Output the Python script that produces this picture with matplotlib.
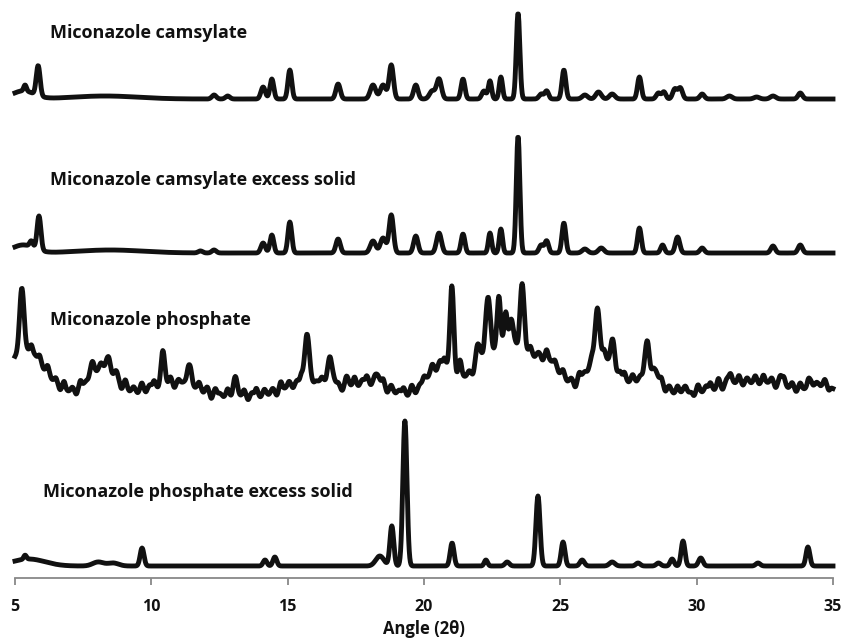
import numpy as np
import matplotlib
matplotlib.use("Agg")
import matplotlib.pyplot as plt

plt.rcParams['font.family'] = ['Open Sans', 'DejaVu Sans']

# 2-theta grid used to draw the patterns
angles = np.arange(5.0, 35.0001, 0.02)

# each trace: vertical offset (baseline) + list of (position, height, width) peaks
labels = ["Miconazole camsylate",
          "Miconazole camsylate excess solid",
          "Miconazole phosphate",
          "Miconazole phosphate excess solid"]
offsets = [479, 325, 183, 12]

camsylate_peaks = [
    (5.3, 8, 0.4), (5.37, 6, 0.05), (5.85, 30, 0.07), (8.3, 3, 1.2),
    (12.3, 4, 0.08), (12.8, 3, 0.08), (14.1, 12, 0.08), (14.42, 20, 0.07),
    (15.08, 29, 0.07), (16.85, 15, 0.08), (18.13, 14, 0.1), (18.5, 14, 0.1),
    (18.8, 34, 0.08), (19.7, 14, 0.08), (20.3, 8, 0.1), (20.55, 20, 0.09),
    (21.43, 20, 0.07), (22.2, 8, 0.08), (22.42, 18, 0.06), (22.82, 22, 0.06),
    (23.45, 86, 0.065), (24.3, 5, 0.08), (24.5, 8, 0.07), (25.13, 29, 0.07),
    (25.9, 4, 0.1), (26.4, 7, 0.1), (26.9, 5, 0.1), (27.9, 22, 0.07),
    (28.6, 6, 0.08), (28.8, 7, 0.07), (29.2, 10, 0.08), (29.4, 11, 0.08),
    (30.2, 5, 0.08), (31.2, 3, 0.1), (32.2, 2, 0.1), (32.8, 3, 0.1),
    (33.8, 6, 0.08),
]

camsylate_excess_peaks = [
    (5.3, 8, 0.4), (5.6, 6, 0.06), (5.88, 34, 0.07), (8.5, 3, 1.2),
    (11.8, 2, 0.08), (12.3, 3, 0.08), (14.1, 10, 0.08), (14.42, 18, 0.07),
    (15.08, 31, 0.07), (16.85, 14, 0.08), (18.13, 12, 0.1), (18.5, 15, 0.1),
    (18.8, 38, 0.08), (19.7, 17, 0.08), (20.55, 20, 0.09), (21.43, 19, 0.07),
    (22.42, 20, 0.06), (22.82, 24, 0.06), (23.45, 117, 0.065), (24.3, 8, 0.08),
    (24.5, 12, 0.07), (25.13, 30, 0.07), (25.9, 4, 0.1), (26.5, 5, 0.1),
    (27.9, 25, 0.07), (28.75, 8, 0.07), (29.3, 16, 0.08), (30.2, 5, 0.08),
    (32.8, 7, 0.08), (33.8, 8, 0.08),
]

phosphate_peaks = [
    # broad background humps
    (5.4, 45, 0.7), (8.2, 28, 0.5), (10.4, 10, 0.7), (11.4, 8, 0.5),
    (15.8, 15, 0.8), (18.0, 14, 0.6), (20.6, 30, 0.5), (23.0, 55, 0.9),
    (24.6, 25, 0.5), (26.5, 40, 0.55), (28.2, 20, 0.5), (31.5, 12, 1.0),
    (33.0, 8, 0.8), (34.6, 10, 0.4),
    # reflections
    (5.25, 63, 0.08), (5.6, 7, 0.05), (7.8, 8, 0.08), (8.37, 10, 0.08),
    (8.7, 6, 0.06), (10.43, 30, 0.07), (11.36, 18, 0.07), (13.07, 16, 0.08),
    (15.7, 47, 0.08), (16.55, 22, 0.12), (17.2, 6, 0.08), (18.3, 8, 0.08),
    (21.02, 80, 0.07), (21.3, 10, 0.05), (22.0, 18, 0.1), (22.35, 55, 0.08),
    (22.75, 44, 0.06), (23.0, 22, 0.06), (23.2, 22, 0.06), (23.6, 59, 0.08),
    (26.35, 50, 0.08), (26.93, 22, 0.08), (28.2, 35, 0.07), (28.5, 8, 0.08),
    (29.5, 5, 0.08), (31.2, 6, 0.08), (33.1, 6, 0.06), (34.2, 6, 0.06),
]

# counting noise on the phosphate trace, one value every 0.15 deg from 5.9
phosphate_noise = [
    5, -3, 6, -2, 4, -4, 7, -1, 3, -5, 6, 0, -3, 5, -2, 4, -4, 6, -1, 2,
    -5, 7, -2, 3, -3, 6, -4, 2, 5, -3, 4, -1, 6, -5, 3, 0, -4, 7, -2, 5,
    -3, 4, -6, 5, 1, -2, 6, -4, 3, -1, 5, -5, 2, 6, -3, 4, -2, 3, -5, 7,
    -1, 4, -4, 2, 6, -3, 5, -2, 0, 4, -5, 6, -1, 3, -4, 5, -2, 7, -3, 2,
    5, -4, 3, -1, 6, -5, 4, -2, 2, 5, -3, 6, -4, 1, 4, -2, 5, -5, 3, 6,
    -2, 4, -3, 7, -1, 3, -5, 5, -2, 6, 0, -4, 4, -3, 6, -1, 3, -4, 5, -2,
    6, -3, 2, -5, 7, -1, 4, -3, 5, -2, 3, -6, 6, 1, -3, 5, -4, 2, 6, -2,
    4, -5, 3, 6, -2, 5, -3, 1, 7, -4, 4, -1, 5, -5, 3, -2, 6, -3, 4, 0,
    -4, 6, -2, 3, 5, -3, 7, -5, 2, 4, -1, 6, -4, 3, -2, 5, -3, 6, -1, 4,
    -5, 3, 6, -2, 4, -4, 5, -1, 7, -3, 2, -2, 5, -4,
]
noise_start, noise_step = 5.9, 0.15

phosphate_excess_peaks = [
    (5.5, 7, 0.6), (5.37, 4, 0.05), (8.05, 4, 0.2), (8.6, 3, 0.2),
    (9.66, 18, 0.07), (14.17, 6, 0.07), (14.53, 9, 0.07), (18.38, 10, 0.15),
    (18.82, 40, 0.07), (19.3, 145, 0.075), (21.03, 23, 0.07), (22.27, 6, 0.06),
    (23.05, 4, 0.08), (24.18, 70, 0.075), (25.1, 24, 0.07), (25.8, 6, 0.08),
    (26.9, 4, 0.1), (27.85, 3, 0.08), (28.6, 3, 0.08), (29.1, 7, 0.07),
    (29.5, 25, 0.07), (30.15, 8, 0.08), (32.25, 3, 0.08), (34.08, 19, 0.07),
]

all_peaks = [camsylate_peaks, camsylate_excess_peaks,
             phosphate_peaks, phosphate_excess_peaks]

# label anchor (2-theta, height) for each trace
label_x = [6.28, 6.28, 6.28, 6.03]
label_y = [545, 398, 258, 86]

ticks = [5, 10, 15, 20, 25, 30, 35]


def pattern(peaks, base):
    y = np.full_like(angles, float(base))
    for pos, h, w in peaks:
        y += h * np.exp(-0.5 * ((angles - pos) / w) ** 2)
    return y


fig = plt.figure(figsize=(8.43, 6.43), dpi=100)
ax = fig.add_axes([15 / 843, 65 / 643, 818 / 843, 578 / 643])

for i, (peaks, base) in enumerate(zip(all_peaks, offsets)):
    if i == 2:
        noise = [(noise_start + k * noise_step, h, 0.045)
                 for k, h in enumerate(phosphate_noise)]
        peaks = peaks + noise
    ax.plot(angles, pattern(peaks, base), color='#111111', lw=3.5,
            solid_joinstyle='round', clip_on=False)

for txt, lx, ly in zip(labels, label_x, label_y):
    ax.text(lx, ly, txt, fontsize=13, fontweight='bold', color='#111111',
            ha='left', va='center')

ax.set_xlim(5, 35)
ax.set_ylim(0, 578)
ax.set_xticks(ticks)
ax.set_xticklabels([str(t) for t in ticks], fontsize=11.5, fontweight='bold',
                   color='#111111')
ax.set_yticks([])
for s in ['top', 'right', 'left']:
    ax.spines[s].set_visible(False)
ax.spines['bottom'].set_color('#888888')
ax.spines['bottom'].set_linewidth(1.3)
ax.tick_params(axis='x', direction='out', length=5, width=1.3,
               color='#888888', pad=10)
ax.set_xlabel('Angle (2θ)', fontsize=12, fontweight='bold', color='#111111',
              labelpad=4)
ax.patch.set_visible(False)

fig.savefig('out.png', dpi=100)
